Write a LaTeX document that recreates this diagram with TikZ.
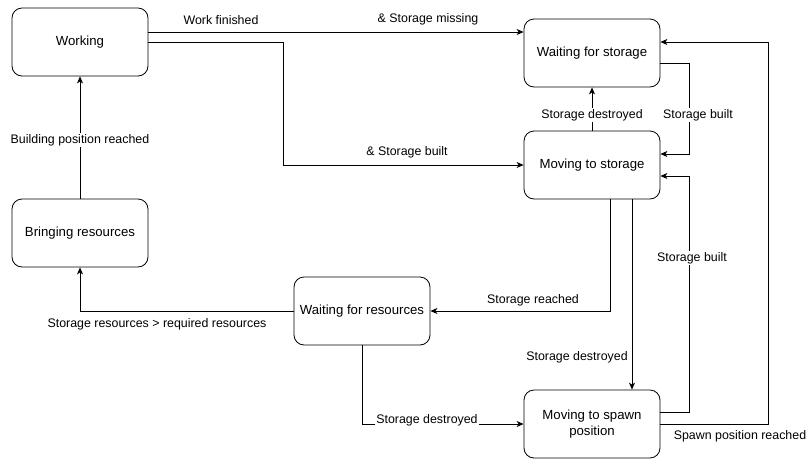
\documentclass[tikz,border=0pt]{standalone}
\usepackage{fontspec}
\setmainfont{Liberation Sans}
\usetikzlibrary{arrows.meta,calc}
\begin{document}
\begin{tikzpicture}[x=1pt,y=-1pt,
  every node/.style={font=\fontsize{12.4}{14}\selectfont},
  state/.style={draw, rounded corners=10pt, minimum width=136pt, minimum height=68pt, align=center, line width=0.8pt, font=\fontsize{13.2}{15.5}\selectfont},
  conn/.style={draw, line width=0.8pt, -{Stealth[length=7pt,width=6pt,inset=2pt]}},
  lbl/.style={inner sep=1pt},
  lblw/.style={fill=white, inner sep=1pt}]
\useasboundingbox (0,0) rectangle (807,459);

\node[state] (work) at (80,42) {Working};
\node[state] (bring) at (80,233) {Bringing resources};
\node[state] (wfs) at (592,53) {Waiting for storage};
\node[state] (mts) at (592,165) {Moving to storage};
\node[state] (wfr) at (362,311) {Waiting for resources};
\node[state] (mtsp) at (592,424) {Moving to spawn\\position};

% Working -> Waiting for storage
\draw[conn] ([yshift=10pt]work.east) coordinate (a1) -- (a1 -| wfs.west);
\node[lbl] (l1) at (221,20) {Work finished};
\node[lbl] (l2) at (428,19) {\& Storage missing};

% Working -> Moving to storage
\draw[conn] (work.east) -- ++(135,0) |- (mts.west);
\node[lbl] (l3) at (407,152) {\& Storage built};

% Moving to storage -> Waiting for storage
\draw[conn] (mts.north) -- (wfs.south);
\node[lblw] (l4) at (592,115) {Storage destroyed};

% Waiting for storage -> Moving to storage
\draw[conn] ([yshift=-10pt]wfs.east) -- ++(29,0) |- ([yshift=11pt]mts.east);
\node[lblw] (l5) at (698,115) {Storage built};

% Moving to spawn -> Moving to storage
\draw[conn] ([yshift=12pt]mtsp.east) -- ++(29,0) |- ([yshift=-11pt]mts.east);
\node[lblw] (l6) at (692,258) {Storage built};

% Moving to spawn -> Waiting for storage
\draw[conn] (mtsp.east) -- ++(108,0) |- ([yshift=11pt]wfs.east);
\node[lbl] (l7) at (740,436) {Spawn position reached};

% Moving to storage -> Waiting for resources
\draw[conn] ([xshift=18pt]mts.south) |- (wfr.east);
\node[lbl] (l8) at (533,300) {Storage reached};

% Moving to storage -> Moving to spawn
\draw[conn] ([xshift=40pt]mts.south) -- ([xshift=40pt]mtsp.north);
\node[lbl] (l9) at (577,357) {Storage destroyed};

% Waiting for resources -> Bringing resources
\draw[conn] (wfr.west) -| (bring.south);
\node[lbl] (l10) at (157,324) {Storage resources > required resources};

% Bringing resources -> Working
\draw[conn] (bring.north) -- (work.south);
\node[lblw] (l11) at (80,140) {Building position reached};

% Waiting for resources -> Moving to spawn
\draw[conn] (wfr.south) |- (mtsp.west);
\node[lblw] (l12) at (427,420) {Storage destroyed};
\end{tikzpicture}
\end{document}
